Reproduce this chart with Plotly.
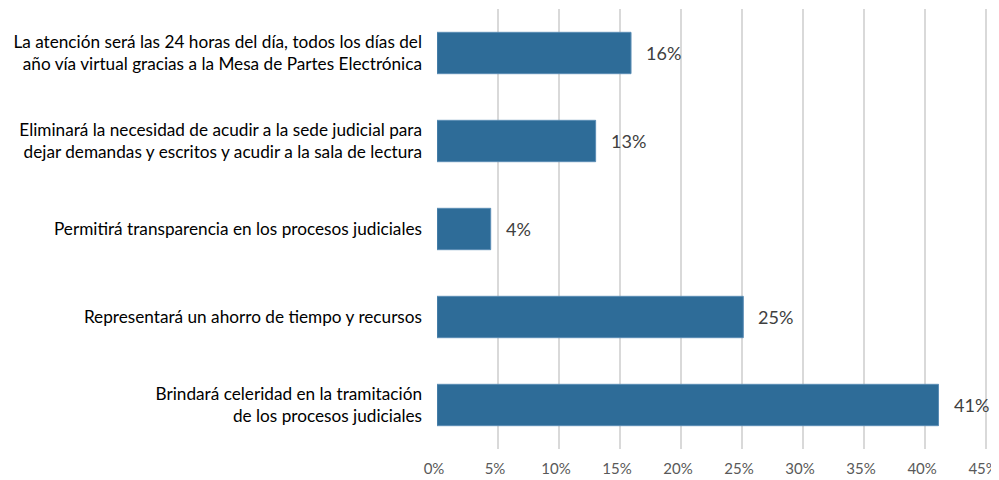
import plotly.graph_objects as go

categories = [
    "Brindará celeridad en la tramitación<br>de los procesos judiciales",
    "Representará un ahorro de tiempo y recursos",
    "Permitirá transparencia en los procesos judiciales",
    "Eliminará la necesidad de acudir a la sede judicial para<br>dejar demandas y escritos y acudir a la sala de lectura",
    "La atención será las 24 horas del día, todos los días del<br>año vía virtual gracias a la Mesa de Partes Electrónica",
]
values = [41.1, 25.1, 4.4, 13.0, 15.9]
value_labels = ["41%", "25%", "4%", "13%", "16%"]
tick_vals = [0, 5, 10, 15, 20, 25, 30, 35, 40, 45]
tick_text = ["0%", "5%", "10%", "15%", "20%", "25%", "30%", "35%", "40%", "45%"]

FONT = "Lato, Open Sans, sans-serif"

fig = go.Figure()
fig.add_trace(go.Bar(
    y=categories, x=values, orientation="h",
    marker=dict(color="#2e6c98", line=dict(color="#5b8db5", width=1)),
    width=0.47,
))
for c, v, t in zip(categories, values, value_labels):
    fig.add_annotation(x=v, y=c, text=t, showarrow=False, xanchor="left",
                       xshift=13, font=dict(family=FONT, size=18, color="#404040"))

fig.update_layout(
    width=991, height=472,
    margin=dict(l=429, r=8, t=1, b=31, autoexpand=False),
    plot_bgcolor="white", paper_bgcolor="white",
    showlegend=False,
    font=dict(family=FONT, size=17.2, color="#000000"),
    xaxis=dict(range=[0, 45.4], tickvals=tick_vals, ticktext=tick_text,
               showgrid=True, gridcolor="#d9d9d9", gridwidth=2,
               zeroline=False, showline=False, ticks="", automargin=False,
               ticklabeloverflow="allow", ticklabelshift=-3,
               tickfont=dict(size=15, color="#595959"), ticklabelstandoff=9),
    yaxis=dict(showgrid=False, zeroline=False, showline=False, ticks="", automargin=False,
               tickfont=dict(size=17.2, color="#000000"), ticklabelstandoff=14),
    bargap=0.5,
)
fig.write_html("out.html")
